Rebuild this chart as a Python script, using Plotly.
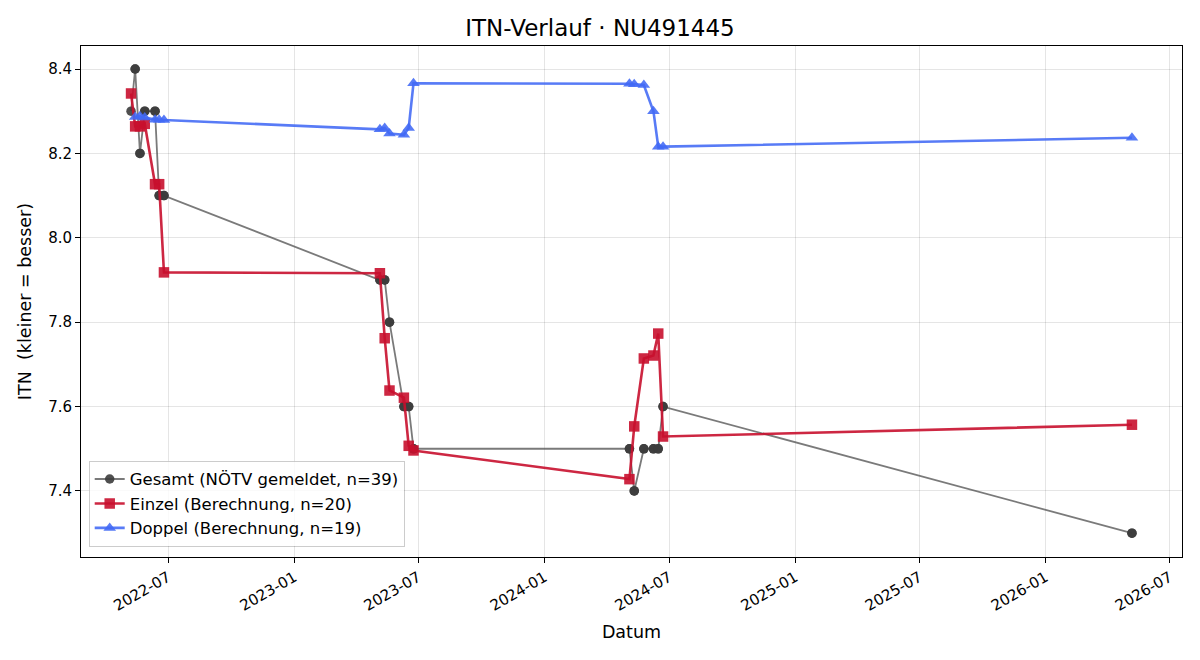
import plotly.graph_objects as go

# --- data ---
einzel_dates = ["2022-05-08", "2022-05-14", "2022-05-21", "2022-05-28", "2022-06-12", "2022-06-18", "2022-06-25",
                "2023-05-06", "2023-05-13", "2023-05-20", "2023-06-10", "2023-06-17", "2023-06-24",
                "2024-05-04", "2024-05-11", "2024-05-25", "2024-06-08", "2024-06-15", "2024-06-22",
                "2026-05-07"]
einzel_itn = [8.342, 8.264, 8.264, 8.270, 8.127, 8.127, 7.918,
              7.916, 7.762, 7.638, 7.621, 7.507, 7.496,
              7.428, 7.553, 7.714, 7.721, 7.773, 7.529,
              7.557]

doppel_dates = ["2022-05-14", "2022-05-21", "2022-05-28", "2022-06-12", "2022-06-18", "2022-06-25",
                "2023-05-06", "2023-05-13", "2023-05-20", "2023-06-10", "2023-06-17", "2023-06-24",
                "2024-05-04", "2024-05-11", "2024-05-25", "2024-06-08", "2024-06-15", "2024-06-22",
                "2026-05-07"]
doppel_itn = [8.286, 8.288, 8.285, 8.280, 8.280, 8.279,
              8.257, 8.260, 8.247, 8.244, 8.260, 8.366,
              8.365, 8.364, 8.362, 8.300, 8.216, 8.216,
              8.237]

gesamt_dates = ["2022-05-08", "2022-05-14", "2022-05-14", "2022-05-21", "2022-05-21", "2022-05-28", "2022-05-28",
                "2022-06-12", "2022-06-12", "2022-06-18", "2022-06-18", "2022-06-25", "2022-06-25",
                "2023-05-06", "2023-05-06", "2023-05-13", "2023-05-13", "2023-05-20", "2023-05-20",
                "2023-06-10", "2023-06-10", "2023-06-17", "2023-06-17", "2023-06-24", "2023-06-24",
                "2024-05-04", "2024-05-04", "2024-05-11", "2024-05-11", "2024-05-25", "2024-05-25",
                "2024-06-08", "2024-06-08", "2024-06-15", "2024-06-15", "2024-06-22", "2024-06-22",
                "2026-05-07", "2026-05-07"]
gesamt_itn = [8.3, 8.4, 8.4, 8.2, 8.2, 8.3, 8.3,
              8.3, 8.3, 8.1, 8.1, 8.1, 8.1,
              7.9, 7.9, 7.9, 7.9, 7.8, 7.8,
              7.6, 7.6, 7.6, 7.6, 7.5, 7.5,
              7.5, 7.5, 7.4, 7.4, 7.5, 7.5,
              7.5, 7.5, 7.5, 7.5, 7.6, 7.6,
              7.3, 7.3]

x_ticks = ["2022-07-01", "2023-01-01", "2023-07-01", "2024-01-01", "2024-07-01",
           "2025-01-01", "2025-07-01", "2026-01-01", "2026-07-01"]
x_ticktext = ["2022-07", "2023-01", "2023-07", "2024-01", "2024-07",
              "2025-01", "2025-07", "2026-01", "2026-07"]
y_ticks = [7.4, 7.6, 7.8, 8.0, 8.2, 8.4]

FONT = "DejaVu Sans"

fig = go.Figure()
fig.add_trace(go.Scatter(
    x=gesamt_dates, y=gesamt_itn, mode="lines+markers",
    name="Gesamt (NÖTV gemeldet, n=39)",
    line=dict(color="rgba(85,85,85,0.78)", width=1.8),
    marker=dict(symbol="circle", size=9.5, color="rgba(60,60,60,0.9)", line=dict(width=0)),
))
fig.add_trace(go.Scatter(
    x=einzel_dates, y=einzel_itn, mode="lines+markers",
    name="Einzel (Berechnung, n=20)",
    line=dict(color="rgba(200,16,46,0.9)", width=2.6),
    marker=dict(symbol="square", size=10.5, color="rgba(200,16,46,0.9)", line=dict(width=0)),
))
fig.add_trace(go.Scatter(
    x=doppel_dates, y=doppel_itn, mode="lines+markers",
    name="Doppel (Berechnung, n=19)",
    line=dict(color="rgba(65,105,245,0.88)", width=2.6),
    marker=dict(symbol="triangle-up", size=11, color="rgba(65,105,245,0.88)", line=dict(width=0)),
))

axis_common = dict(
    showline=True, linecolor="black", linewidth=1, mirror=True,
    ticks="outside", ticklen=5, tickwidth=1, tickcolor="black",
    showgrid=True, gridcolor="rgba(0,0,0,0.1)", gridwidth=1,
    zeroline=False, tickfont=dict(family=FONT, size=15, color="black"),
)

fig.update_layout(
    width=1200, height=660,
    paper_bgcolor="white", plot_bgcolor="white",
    margin=dict(l=81, r=18, t=46, b=103),
    font=dict(family=FONT, color="black"),
    title=dict(text="ITN-Verlauf · NU491445", x=0.5, xanchor="center",
               y=1 - 28/660, yanchor="middle", font=dict(family=FONT, size=23)),
    xaxis=dict(type="date", range=["2022-02-24", "2026-07-19"],
               tickvals=x_ticks, ticktext=x_ticktext, tickangle=-30,
               title=dict(text="Datum", font=dict(family=FONT, size=17.5), standoff=11),
               **axis_common),
    yaxis=dict(range=[7.2435, 8.4545], tickvals=y_ticks,
               ticktext=[f"{v:.1f}" for v in y_ticks],
               title=dict(text="ITN  (kleiner = besser)", font=dict(family=FONT, size=17.5), standoff=12),
               **axis_common),
    legend=dict(x=0.007, y=0.02, xanchor="left", yanchor="bottom",
                bgcolor="rgba(255,255,255,0.8)", bordercolor="rgba(0,0,0,0.2)", borderwidth=1,
                font=dict(family=FONT, size=16.5), tracegroupgap=2),
    showlegend=True,
)

fig.write_html("out.html")
